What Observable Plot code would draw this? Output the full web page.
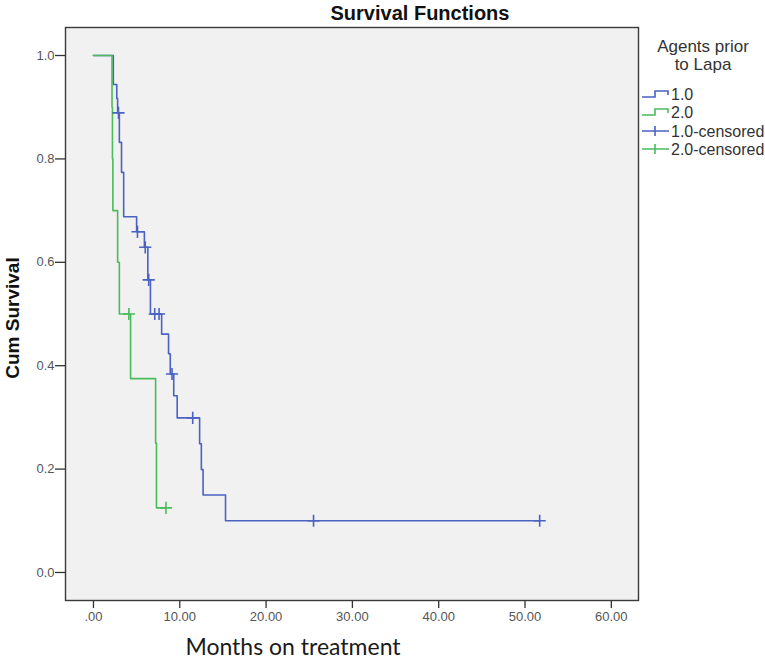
<!DOCTYPE html>
<html><head><meta charset="utf-8">
<script src="https://cdn.jsdelivr.net/npm/d3@7"></script>
<script src="https://cdn.jsdelivr.net/npm/@observablehq/plot@0.6"></script>
<style>
body{margin:0;background:#fff;}
#wrap{position:relative;width:765px;height:662px;}
#wrap > svg{position:absolute;left:0;top:0;}
</style></head><body><div id="wrap"></div>
<script>
// ---- data ----
const groups = ["1.0", "2.0"];
const groupColors = ["#4a62c2", "#4cbb5c"];

// group 1.0: step points (time in months, cumulative survival after the step)
const g1Times = [0, 2.3, 2.7, 2.8, 3.0, 3.25, 3.5, 5.0, 5.9, 6.3, 6.6, 7.9, 8.7, 8.9, 9.3, 9.7, 12.3, 12.5, 12.7, 15.3, 51.7];
const g1Surv  = [1.0, 0.944, 0.917, 0.889, 0.832, 0.774, 0.688, 0.659, 0.629, 0.566, 0.500, 0.461, 0.423, 0.384, 0.342, 0.299, 0.249, 0.199, 0.150, 0.100, 0.100];
const g1CensTimes = [2.9, 5.1, 6.0, 6.4, 7.1, 7.6, 9.1, 11.5, 25.5, 51.7];
const g1CensSurv  = [0.889, 0.659, 0.629, 0.566, 0.500, 0.500, 0.384, 0.299, 0.100, 0.100];

// group 2.0
const g2Times = [0, 2.15, 2.2, 2.25, 2.8, 3.0, 4.3, 7.2, 7.3, 8.4];
const g2Surv  = [1.0, 0.9, 0.8, 0.7, 0.6, 0.5, 0.375, 0.25, 0.125, 0.125];
const g2CensTimes = [4.1, 8.4];
const g2CensSurv  = [0.5, 0.125];

const xTicks = [0, 10, 20, 30, 40, 50, 60];
const xTickLabels = [".00", "10.00", "20.00", "30.00", "40.00", "50.00", "60.00"];
const yTicks = [0, 0.2, 0.4, 0.6, 0.8, 1.0];
const yTickLabels = ["0.0", "0.2", "0.4", "0.6", "0.8", "1.0"];

const chartTitle = "Survival Functions";
const xTitle = "Months on treatment";
const yTitle = "Cum Survival";
const legendTitle = ["Agents prior", "to Lapa"];
const legendLabels = ["1.0", "2.0", "1.0-censored", "2.0-censored"];

// ---- tables ----
const steps = [
  ...g1Times.map((t, i) => ({t, s: g1Surv[i], g: groups[0]})),
  ...g2Times.map((t, i) => ({t, s: g2Surv[i], g: groups[1]}))
];
const cens = [
  ...g1CensTimes.map((t, i) => ({t, s: g1CensSurv[i], g: groups[0]})),
  ...g2CensTimes.map((t, i) => ({t, s: g2CensSurv[i], g: groups[1]}))
];
const colorOf = Object.fromEntries(groups.map((g, i) => [g, groupColors[i]]));
const xFmt = d => xTickLabels[xTicks.indexOf(d)];
const yFmt = d => yTickLabels[yTicks.findIndex(v => Math.abs(v - d) < 1e-9)];

const font = '"Liberation Sans", Arial, sans-serif';

const chart = Plot.plot({
  width: 765, height: 662,
  marginLeft: 65, marginRight: 127, marginTop: 27, marginBottom: 62,
  style: {fontFamily: font, background: "transparent"},
  x: {domain: [-3.24, 63.15], label: null},
  y: {domain: [-0.0542, 1.0542], label: null},
  marks: [
    Plot.frame({fill: "#f1f1f1", stroke: null}),
    Plot.axisX({ticks: xTicks, tickSize: 8, tickPadding: 3, fontSize: 13, stroke: "#333", strokeWidth: 1.3, color: "#555", tickFormat: xFmt}),
    Plot.axisY({ticks: yTicks, tickSize: 10, tickPadding: 1, fontSize: 13, stroke: "#333", strokeWidth: 1.3, color: "#555", tickFormat: yFmt}),
    Plot.line(steps, {x: "t", y: "s", z: "g", stroke: d => colorOf[d.g], curve: "step-after", strokeWidth: 1.6}),
    Plot.dot(cens, {x: "t", y: "s", symbol: "plus", r: 4, stroke: d => colorOf[d.g], strokeWidth: 1.6}),
    Plot.frame({stroke: "#3a3a3a", strokeWidth: 1.4})
  ]
});
document.getElementById("wrap").appendChild(chart);

// ---- overlay: titles and legend ----
const ov = d3.select("#wrap").append("svg").attr("width", 765).attr("height", 662)
  .style("font-family", font);
ov.append("text").attr("x", 420).attr("y", 20).attr("text-anchor", "middle")
  .attr("font-weight", "bold").attr("font-size", 20).attr("fill", "#111").text(chartTitle);
ov.append("text").attr("transform", "translate(19,318) rotate(-90)").attr("text-anchor", "middle")
  .attr("font-weight", "bold").attr("font-size", 19).attr("fill", "#111").text(yTitle);
ov.append("text").attr("x", 293).attr("y", 655).attr("text-anchor", "middle")
  .attr("font-family", "Lato, sans-serif").attr("font-size", 23).attr("fill", "#1a1a1a").text(xTitle);

legendTitle.forEach((t, i) => ov.append("text").attr("x", 703).attr("y", 52 + i * 18)
  .attr("text-anchor", "middle").attr("font-size", 17).attr("fill", "#333").text(t));
const itemY = [94, 112, 131, 149];
legendLabels.forEach((lab, i) => {
  const y = itemY[i];
  const c = groupColors[i % 2];
  if (i < 2) {
    ov.append("path").attr("d", `M642,${y + 3}H655V${y - 3}H668V${y + 1}`)
      .attr("fill", "none").attr("stroke", c).attr("stroke-width", 1.6);
  } else {
    ov.append("path").attr("d", `M642,${y}H669M655,${y - 5}V${y + 5}`)
      .attr("fill", "none").attr("stroke", c).attr("stroke-width", 1.6);
  }
  ov.append("text").attr("x", 671).attr("y", y).attr("dy", "0.35em")
    .attr("font-size", 16).attr("fill", "#333").text(lab);
});
</script></body></html>
